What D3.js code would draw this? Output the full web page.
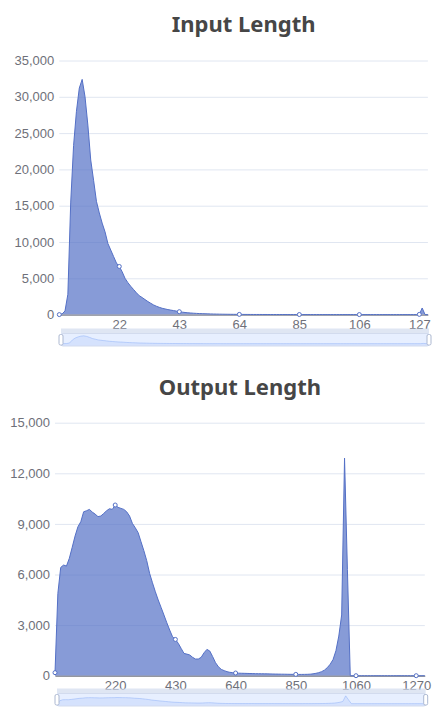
<!DOCTYPE html>
<html>
<head>
<meta charset="utf-8">
<script src="https://cdn.jsdelivr.net/npm/d3@7"></script>
<style>
  body { margin: 0; background: #fff; }
  svg { display: block; font-family: "Noto Sans", sans-serif; }
</style>
</head>
<body>
<div id="chart"></div>
<script>
// ---- data ----
var inputCats = d3.range(1, 131).map(String);   // 1 .. 130
var inputVals = [
  0, 100, 500, 2800, 15500, 23300, 28000, 31200, 32400, 30000,
  26100, 21300, 18500, 15600, 14000, 12600, 11400, 9800, 8900, 8000,
  7100, 6630, 5900, 5000, 4400, 3900, 3450, 3000, 2600, 2350,
  2070, 1800, 1560, 1330, 1150, 1000, 870, 780, 690, 620,
  550, 480, 400, 340, 290, 250, 220, 190, 165, 145,
  130, 115, 100, 90, 80, 70, 62, 55, 50, 45,
  40, 36, 32, 28, 25, 23, 21, 19, 18, 17,
  16, 15, 14, 13, 12, 12, 11, 11, 10, 10,
  9, 9, 8, 8, 8, 7, 7, 7, 6, 6,
  6, 6, 5, 5, 5, 5, 5, 4, 4, 4,
  4, 4, 4, 3, 3, 3, 3, 3, 3, 3,
  3, 3, 2, 2, 2, 2, 2, 2, 2, 2,
  2, 2, 2, 2, 2, 3, 30, 910, 0, 0
];
var inputTicks = ["22", "43", "64", "85", "106", "127"];
var inputMarks = ["1", "22", "43", "64", "85", "106", "127"];
var inputYTicks = [0, 5000, 10000, 15000, 20000, 25000, 30000, 35000];

var outputCats = d3.range(10, 1301, 10).map(String);   // 10 .. 1300
var outputVals = [
  180, 4880, 6420, 6560, 6500, 6960, 7610, 8280, 8830, 9130,
  9720, 9780, 9860, 9700, 9580, 9430, 9470, 9620, 9780, 9900,
  9860, 10120, 9980, 9920, 9860, 9720, 9470, 9030, 8770, 8480,
  7940, 7410, 6820, 6070, 5510, 4980, 4490, 4050, 3600, 3140,
  2710, 2310, 2150, 1920, 1620, 1320, 1280, 1230, 1090, 990,
  990, 1090, 1360, 1560, 1460, 1130, 770, 530, 375, 300,
  240, 200, 180, 160, 150, 145, 140, 135, 130, 125,
  120, 118, 115, 112, 110, 105, 100, 97, 94, 90,
  88, 85, 82, 80, 78, 76, 76, 78, 82, 90,
  110, 140, 180, 240, 330, 480, 680, 960, 1480, 2350,
  3600, 12900, 6300, 0, 0, 0, 0, 0, 0, 0,
  0, 0, 0, 0, 0, 0, 0, 0, 0, 0,
  0, 0, 0, 0, 0, 0, 0, 0, 0, 0
];
var outputTicks = ["220", "430", "640", "850", "1060", "1270"];
var outputMarks = ["10", "220", "430", "640", "850", "1060", "1270"];
var outputYTicks = [0, 3000, 6000, 9000, 12000, 15000];

var svg = d3.select("#chart").append("svg")
    .attr("width", 432)
    .attr("height", 707);

function drawPanel(p) {
  var g = svg.append("g");

  var x = d3.scalePoint().domain(p.cats).range([p.left, p.right]);
  var y = d3.scaleLinear().domain([0, p.yMax]).range([p.bottom, p.top]);

  // title
  g.append("text")
    .attr("x", (p.left + p.right) / 2)
    .attr("y", p.titleY)
    .attr("text-anchor", "middle")
    .style("font-size", "22px")
    .style("font-weight", "bold")
    .style("fill", "#464646")
    .text(p.title);

  // y axis + split lines
  var ya = g.append("g")
    .attr("transform", "translate(" + p.left + ",0)")
    .call(d3.axisLeft(y)
      .tickValues(p.yTicks)
      .tickSize(-(p.right - p.left))
      .tickPadding(5)
      .tickFormat(d3.format(",")));
  ya.select(".domain").remove();
  ya.selectAll("line").attr("stroke", "#E0E6F1");
  ya.selectAll("text").attr("fill", "#6E7079").style("font-size", "13px");

  var data = p.cats.map(function(c, i) { return {c: c, v: p.vals[i]}; });

  // area
  g.append("path")
    .datum(data)
    .attr("fill", "#5470c6")
    .attr("fill-opacity", 0.7)
    .attr("d", d3.area()
      .x(function(d) { return x(d.c); })
      .y0(y(0))
      .y1(function(d) { return y(d.v); }));

  // x axis
  var xa = g.append("g")
    .attr("transform", "translate(0," + y(0) + ")")
    .call(d3.axisBottom(x).tickValues(p.ticks).tickSize(0).tickPadding(5));
  xa.select(".domain").attr("stroke", "#6E7079");
  xa.selectAll("text").attr("fill", "#6E7079").style("font-size", "13px");

  // line
  g.append("path")
    .datum(data)
    .attr("fill", "none")
    .attr("stroke", "#5470c6")
    .attr("stroke-width", 1)
    .attr("d", d3.line()
      .x(function(d) { return x(d.c); })
      .y(function(d) { return y(d.v); }));

  // symbols at label positions
  g.selectAll("circle.mark")
    .data(data.filter(function(d) { return p.marks.indexOf(d.c) >= 0; }))
    .enter()
    .append("circle")
    .attr("class", "mark")
    .attr("cx", function(d) { return x(d.c); })
    .attr("cy", function(d) { return y(d.v); })
    .attr("r", 2)
    .attr("fill", "#fff")
    .attr("stroke", "#5470c6")
    .attr("stroke-width", 1);

  // dataZoom slider
  var sl = p.sLeft, sr = p.sRight, st = p.sTop, sb = p.sBottom;
  var sx = d3.scalePoint().domain(p.cats).range([sl, sr]);
  var vmax = d3.max(p.vals);
  var sy = d3.scaleLinear().domain([-0.3 * vmax, 1.3 * vmax]).range([sb, st]);

  g.append("rect")
    .attr("x", sl).attr("y", st - 5)
    .attr("width", sr - sl).attr("height", 5)
    .attr("fill", "#D2DBEE").attr("opacity", 0.7);

  g.append("path")
    .datum(data)
    .attr("fill", "#8fb0f7")
    .attr("fill-opacity", 0.2)
    .attr("d", d3.area()
      .x(function(d) { return sx(d.c); })
      .y0(sb)
      .y1(function(d) { return sy(d.v); }));
  g.append("path")
    .datum(data)
    .attr("fill", "none")
    .attr("stroke", "#8fb0f7")
    .attr("stroke-width", 0.5)
    .attr("d", d3.line()
      .x(function(d) { return sx(d.c); })
      .y(function(d) { return sy(d.v); }));

  g.append("rect")
    .attr("x", sl).attr("y", st)
    .attr("width", sr - sl).attr("height", sb - st)
    .attr("fill", "rgba(135,175,255,0.2)");
  g.append("rect")
    .attr("x", sl).attr("y", st)
    .attr("width", sr - sl).attr("height", sb - st)
    .attr("rx", 2)
    .attr("fill", "none")
    .attr("stroke", "#d2dbee");

  [sl, sr].forEach(function(hx) {
    g.append("rect")
      .attr("x", hx - 2).attr("y", st + 1)
      .attr("width", 4).attr("height", sb - st - 2)
      .attr("rx", 1.5)
      .attr("fill", "#fff")
      .attr("stroke", "#ACB8D1");
  });
}

drawPanel({
  title: "Input Length", titleY: 32,
  cats: inputCats, vals: inputVals, ticks: inputTicks, marks: inputMarks,
  yTicks: inputYTicks, yMax: 35000,
  left: 59.3, right: 427.9, top: 60.5, bottom: 314.6,
  sLeft: 61, sRight: 429, sTop: 333.5, sBottom: 346
});

drawPanel({
  title: "Output Length", titleY: 394.5,
  cats: outputCats, vals: outputVals, ticks: outputTicks, marks: outputMarks,
  yTicks: outputYTicks, yMax: 15000,
  left: 55, right: 424.8, top: 422.7, bottom: 675.7,
  sLeft: 57, sRight: 425.7, sTop: 693.5, sBottom: 706
});
</script>
</body>
</html>
